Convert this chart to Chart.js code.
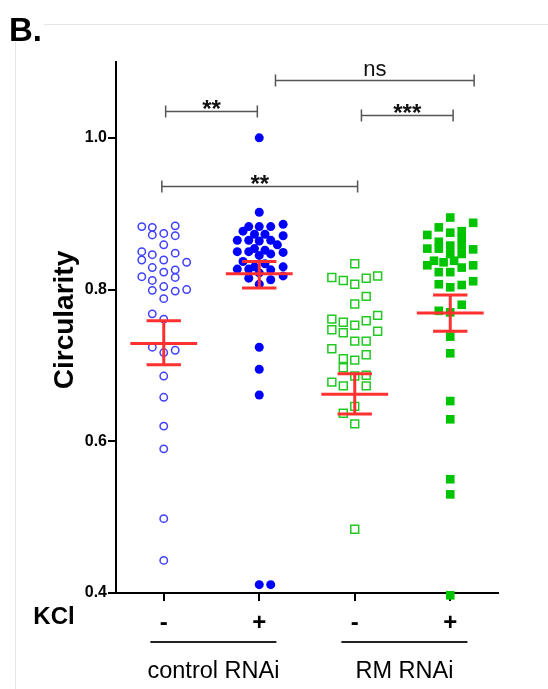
<!DOCTYPE html>
<html>
<head>
<meta charset="utf-8">
<title>Circularity</title>
<script src="https://cdn.jsdelivr.net/npm/chart.js"></script>
<style>
	html, body { margin: 0; padding: 0; background: #fff; }
	canvas { display: block; }
</style>
</head>
<body>
<canvas id="c1" width="548" height="689"></canvas>
<script>
// categories on the x axis (1..4)
var categories = ['control RNAi -', 'control RNAi +', 'RM RNAi -', 'RM RNAi +'];
var xTickLabels = ['-', '+', '-', '+'];
var groupLabels = ['control RNAi', 'RM RNAi'];
var yTicks = [0.4, 0.6, 0.8, 1.0];

// circularity values per cell, with the horizontal spread
var ctrlMinusY = [0.883, 0.882, 0.872, 0.874, 0.884, 0.871, 0.859, 0.850, 0.839, 0.846, 0.839, 0.848, 0.836,
	0.829, 0.823, 0.826, 0.816, 0.817, 0.812, 0.799, 0.804, 0.798, 0.800, 0.788,
	0.768, 0.761, 0.724, 0.717, 0.720, 0.686, 0.658, 0.620, 0.590, 0.498, 0.443];
var ctrlMinusSpread = [-0.23, -0.12, -0.12, 0, 0.12, 0.12, 0, -0.23, -0.23, -0.12, 0, 0.12, 0.24,
	-0.12, 0, 0.12, 0.12, -0.23, -0.12, -0.12, 0, 0.12, 0.24, 0,
	-0.12, 0, -0.12, 0, 0.12, 0, 0, 0, 0, 0, 0];

var ctrlPlusY = [1.0, 0.902, 0.883, 0.883, 0.883, 0.886, 0.877, 0.873, 0.873,
	0.865, 0.865, 0.865, 0.864, 0.871, 0.859, 0.850, 0.850, 0.854, 0.852, 0.845, 0.847, 0.849,
	0.837, 0.827, 0.827, 0.830, 0.834, 0.826, 0.830, 0.815, 0.807, 0.813, 0.818, 0.822,
	0.724, 0.695, 0.661, 0.411, 0.411];
var ctrlPlusSpread = [0, 0, -0.11, 0, 0.12, 0.25, -0.17, -0.05, 0.06,
	-0.23, -0.11, 0.12, 0, 0.25, 0.19, -0.23, -0.11, -0.05, 0.06, 0, 0.12, 0.25,
	-0.17, -0.23, -0.11, -0.05, 0.06, 0.12, 0.25, -0.11, 0, 0.12, 0.25, 0,
	0, 0, 0, 0, 0.12];

var rmMinusY = [0.834, 0.816, 0.812, 0.807, 0.815, 0.818, 0.791, 0.781,
	0.761, 0.757, 0.753, 0.759, 0.766, 0.747, 0.743, 0.745, 0.732, 0.732, 0.722,
	0.709, 0.707, 0.714, 0.697, 0.686, 0.687, 0.678, 0.673, 0.673, 0.646, 0.637, 0.623, 0.484];
var rmMinusSpread = [0, -0.24, -0.12, 0, 0.12, 0.24, 0.12, 0,
	-0.24, -0.12, 0, 0.12, 0.24, -0.24, -0.12, 0.24, 0, 0.12, -0.24,
	-0.12, 0, 0.12, -0.12, 0, 0.12, -0.24, -0.12, 0.12, 0, -0.12, 0, 0];

var rmPlusY = [0.895, 0.888, 0.882, 0.875, 0.877, 0.872, 0.863, 0.868, 0.854, 0.854, 0.858, 0.858, 0.853,
	0.847, 0.847, 0.838, 0.836, 0.838, 0.832, 0.832, 0.829, 0.823, 0.823, 0.807, 0.803, 0.806, 0.811,
	0.780, 0.772, 0.770, 0.738, 0.716, 0.653, 0.629, 0.550, 0.530, 0.397];
var rmPlusSpread = [0, 0.24, -0.12, 0, 0.12, -0.24, -0.12, 0.12, -0.24, -0.12, 0, 0.12, 0.24,
	0, 0.12, -0.17, -0.07, 0.04, -0.24, 0.24, 0.12, -0.12, 0, -0.12, 0, 0.12, 0.24,
	0.12, -0.12, 0, 0, 0, 0, 0, 0, 0, 0];

// mean +/- SEM as drawn in red
var meanVals = [0.729, 0.821, 0.662, 0.769];
var semUpper = [0.759, 0.837, 0.689, 0.793];
var semLower = [0.701, 0.802, 0.636, 0.745];

// significance brackets
var sigText = ['**', '**', 'ns', '***'];
var sigFrom = [1.02, 0.98, 2.17, 3.07];
var sigTo = [1.98, 3.03, 4.25, 4.03];
var sigY = [1.035, 0.936, 1.076, 1.030];

function toPoints(cat, ys, spread) {
	var pts = [];
	for (var i = 0; i < ys.length; i++) {
		pts.push({x: cat + spread[i], y: ys[i]});
	}
	return pts;
}

var annotations = {
	id: 'annotations',
	beforeDraw: function(chart) {
		var ctx = chart.ctx;
		ctx.save();
		ctx.fillStyle = '#fff';
		ctx.fillRect(0, 0, chart.width, chart.height);
		ctx.strokeStyle = '#e6e6e6';
		ctx.lineWidth = 1;
		ctx.beginPath();
		ctx.moveTo(44, 24.5);
		ctx.lineTo(548, 24.5);
		ctx.moveTo(15.5, 42);
		ctx.lineTo(15.5, 689);
		ctx.stroke();
		ctx.restore();
	},
	afterDatasetsDraw: function(chart) {
		var ctx = chart.ctx;
		var xs = chart.scales.x, ys = chart.scales.y;
		ctx.save();

		// mean and SEM bars
		ctx.strokeStyle = '#ff3030';
		ctx.lineWidth = 3;
		for (var i = 0; i < meanVals.length; i++) {
			var c = i + 1;
			var ym = ys.getPixelForValue(meanVals[i]);
			var yu = ys.getPixelForValue(semUpper[i]);
			var yl = ys.getPixelForValue(semLower[i]);
			ctx.beginPath();
			ctx.moveTo(xs.getPixelForValue(c - 0.35), ym);
			ctx.lineTo(xs.getPixelForValue(c + 0.35), ym);
			ctx.moveTo(xs.getPixelForValue(c - 0.18), yu);
			ctx.lineTo(xs.getPixelForValue(c + 0.18), yu);
			ctx.moveTo(xs.getPixelForValue(c - 0.18), yl);
			ctx.lineTo(xs.getPixelForValue(c + 0.18), yl);
			ctx.moveTo(xs.getPixelForValue(c), yu);
			ctx.lineTo(xs.getPixelForValue(c), yl);
			ctx.stroke();
		}

		// significance brackets
		ctx.strokeStyle = '#555';
		ctx.lineWidth = 1.5;
		ctx.fillStyle = '#111';
		ctx.textAlign = 'center';
		ctx.textBaseline = 'alphabetic';
		for (var j = 0; j < sigText.length; j++) {
			var x1 = xs.getPixelForValue(sigFrom[j]);
			var x2 = xs.getPixelForValue(sigTo[j]);
			var y = Math.round(ys.getPixelForValue(sigY[j])) + 0.5;
			ctx.beginPath();
			ctx.moveTo(x1, y);
			ctx.lineTo(x2, y);
			ctx.moveTo(x1, y - 6);
			ctx.lineTo(x1, y + 6);
			ctx.moveTo(x2, y - 6);
			ctx.lineTo(x2, y + 6);
			ctx.stroke();
			if (sigText[j] == 'ns') {
				ctx.font = '22px "Liberation Sans", Arial, sans-serif';
				ctx.fillText(sigText[j], (x1 + x2) / 2, y - 5);
			} else {
				ctx.font = 'bold 24px "Liberation Sans", Arial, sans-serif';
				ctx.fillText(sigText[j], (x1 + x2) / 2, y + 5);
			}
		}

		// panel letter
		ctx.fillStyle = '#000';
		ctx.textAlign = 'left';
		ctx.font = 'bold 33px "Liberation Sans", Arial, sans-serif';
		ctx.fillText('B.', 9, 41);

		// y title
		ctx.save();
		ctx.translate(73, 320);
		ctx.rotate(-Math.PI / 2);
		ctx.textAlign = 'center';
		ctx.font = 'bold 28px "Liberation Sans", Arial, sans-serif';
		ctx.fillText('Circularity', 0, 0);
		ctx.restore();

		// KCl row label
		ctx.textAlign = 'center';
		ctx.textBaseline = 'middle';
		ctx.font = 'bold 24px "Liberation Sans", Arial, sans-serif';
		ctx.fillText('KCl', 54, 617);

		// group underlines and names
		ctx.strokeStyle = '#222';
		ctx.lineWidth = 2;
		ctx.textBaseline = 'alphabetic';
		ctx.font = '23.5px "Liberation Sans", Arial, sans-serif';
		for (var g = 0; g < groupLabels.length; g++) {
			var a = xs.getPixelForValue(2 * g + 1 - 0.14);
			var b = xs.getPixelForValue(2 * g + 2 + 0.18);
			ctx.beginPath();
			ctx.moveTo(a, 642);
			ctx.lineTo(b, 642);
			ctx.stroke();
			ctx.fillText(groupLabels[g], (a + b) / 2, 678);
		}
		ctx.restore();
	}
};

var c = document.getElementById('c1');
var chart = new Chart(c, {
	type: 'scatter',
	data: {
		datasets: [{
			label: categories[0],
			data: toPoints(1, ctrlMinusY, ctrlMinusSpread),
			pointStyle: 'circle',
			radius: 3.7,
			borderWidth: 1.5,
			borderColor: '#4040ff',
			backgroundColor: 'rgba(255,255,255,0)',
			clip: false
		}, {
			label: categories[1],
			data: toPoints(2, ctrlPlusY, ctrlPlusSpread),
			pointStyle: 'circle',
			radius: 4.5,
			borderWidth: 0,
			borderColor: '#0000ff',
			backgroundColor: '#0000ff',
			clip: false
		}, {
			label: categories[2],
			data: toPoints(3, rmMinusY, rmMinusSpread),
			pointStyle: 'rect',
			radius: 5.6,
			borderWidth: 1.5,
			borderColor: '#22c922',
			backgroundColor: 'rgba(255,255,255,0)',
			clip: false
		}, {
			label: categories[3],
			data: toPoints(4, rmPlusY, rmPlusSpread),
			pointStyle: 'rect',
			radius: 6.1,
			borderWidth: 0,
			borderColor: '#00c400',
			backgroundColor: '#00c400',
			clip: false
		}]
	},
	options: {
		responsive: false,
		animation: false,
		layout: { padding: { left: 0, right: 50, top: 62, bottom: 0 } },
		plugins: { legend: { display: false }, tooltip: { enabled: false } },
		scales: {
			x: {
				type: 'linear',
				min: 0.5,
				max: 4.5,
				afterFit: function(scale) { scale.height = 96; },
				afterBuildTicks: function(scale) {
					scale.ticks = [1, 2, 3, 4].map(function(v) { return {value: v}; });
				},
				border: { color: '#000', width: 2 },
				grid: { drawOnChartArea: false, drawTicks: true, tickLength: 8, color: '#000', lineWidth: 2 },
				ticks: {
					padding: 8,
					color: '#000',
					font: { family: '"Liberation Sans", Arial, sans-serif', size: 24, weight: 'bold' },
					callback: function(v, i) { return xTickLabels[i]; }
				}
			},
			y: {
				min: 0.4,
				max: 1.1,
				afterFit: function(scale) { scale.width = 116; },
				afterBuildTicks: function(scale) {
					scale.ticks = yTicks.map(function(v) { return {value: v}; });
				},
				border: { color: '#000', width: 2 },
				grid: { drawOnChartArea: false, drawTicks: true, tickLength: 8, color: '#000', lineWidth: 2 },
				ticks: {
					padding: 1,
					color: '#000',
					font: { family: '"Liberation Sans", Arial, sans-serif', size: 16, weight: 'bold' },
					callback: function(v) { return v.toFixed(1); }
				}
			}
		}
	},
	plugins: [annotations]
});
</script>
</body>
</html>
